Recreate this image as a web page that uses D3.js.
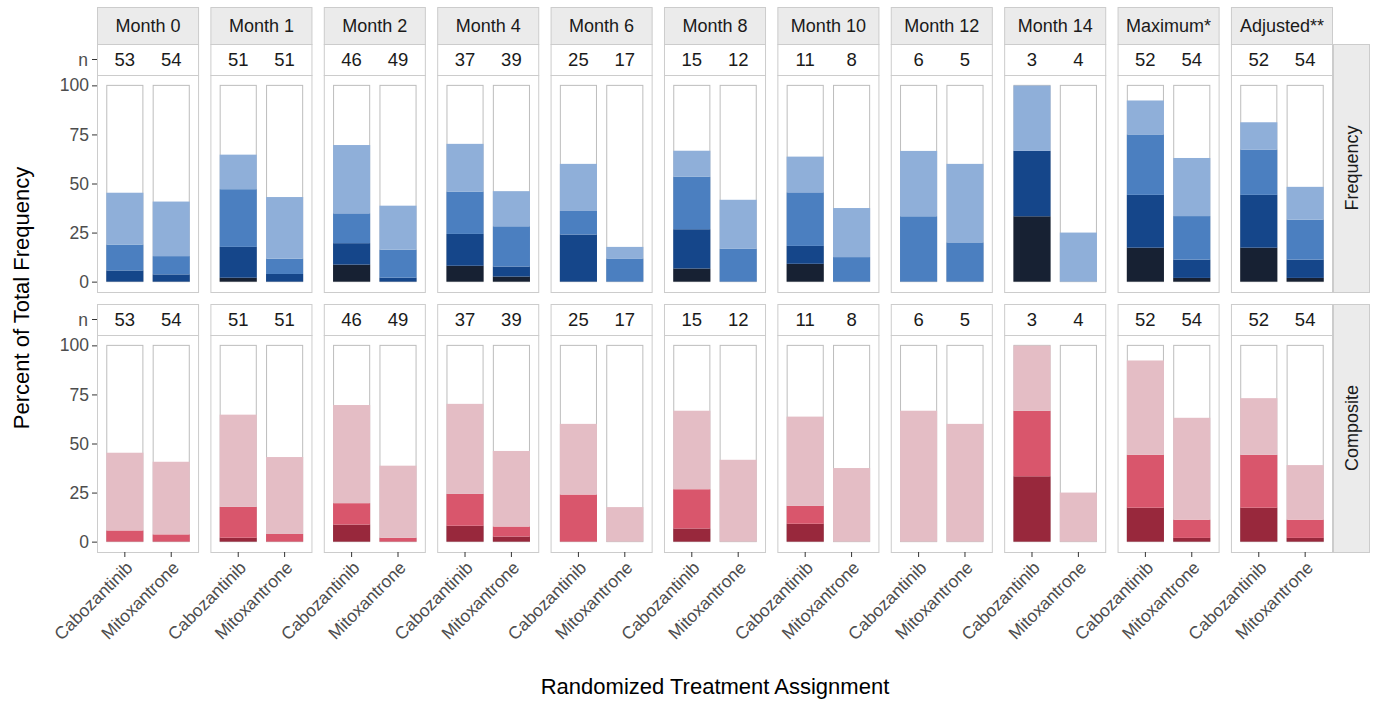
<!DOCTYPE html>
<html lang="en">
<head>
<meta charset="utf-8">
<script src="https://d3js.org/d3.v7.min.js"></script>
<style>
  body { margin: 0; background: #fff; }
  text { font-family: "Liberation Sans", Arial, sans-serif; }
</style>
</head>
<body>
<div id="chart"></div>
<script>
// facets and arms
const timepoints = ["Month 0", "Month 1", "Month 2", "Month 4", "Month 6", "Month 8",
                    "Month 10", "Month 12", "Month 14", "Maximum*", "Adjusted**"];
const arms = ["Cabozantinib", "Mitoxantrone"];
const nCabo = [53, 51, 46, 37, 25, 15, 11, 6, 3, 52, 52];
const nMito = [54, 51, 49, 39, 17, 12, 8, 5, 4, 54, 54];

// Frequency row, % per level, stacked bottom -> top (darkest, dark, medium, light)
const freqCabo = [[0, 5.7, 13.2, 26.4], [2.0, 15.7, 29.4, 17.6], [8.7, 10.9, 15.2, 34.8],
                  [8.1, 16.2, 21.6, 24.3], [0, 24, 12, 24], [6.7, 20, 26.7, 13.3],
                  [9.1, 9.1, 27.3, 18.2], [0, 0, 33.3, 33.3], [33.3, 33.3, 0, 33.3],
                  [17.3, 26.9, 30.8, 17.3], [17.3, 26.9, 23.1, 13.9]];
const freqMito = [[0, 3.7, 9.3, 27.8], [0, 3.9, 7.8, 31.4], [0, 2.0, 14.3, 22.4],
                  [2.6, 5.1, 20.5, 17.9], [0, 0, 11.8, 5.9], [0, 0, 16.7, 25],
                  [0, 0, 12.5, 25], [0, 0, 20, 40], [0, 0, 0, 25],
                  [1.9, 9.3, 22.2, 29.6], [1.9, 9.3, 20.4, 16.7]];

// Composite row, % per level, bottom -> top (dark, medium, light)
const compCabo = [[0, 5.7, 39.6], [2.0, 15.7, 47.0], [8.7, 10.9, 50.0], [8.1, 16.2, 45.9],
                  [0, 24, 36], [6.7, 20, 40], [9.1, 9.1, 45.5], [0, 0, 66.7],
                  [33.3, 33.3, 33.3], [17.3, 26.9, 48.1], [17.3, 26.9, 28.9]];
const compMito = [[0, 3.7, 37.0], [0, 3.9, 39.2], [0, 2.0, 36.7], [2.6, 5.1, 38.5],
                  [0, 0, 17.6], [0, 0, 41.7], [0, 0, 37.5], [0, 0, 60],
                  [0, 0, 25], [1.9, 9.3, 51.9], [1.9, 9.3, 27.8]];

const yTicks = [0, 25, 50, 75, 100];

const blues = ["#172133", "#15468a", "#4b7fc0", "#8fafd9"];
const reds = ["#98283c", "#d9566c", "#e4bdc5"];

const W = 1373, H = 701;
const svg = d3.select("#chart").append("svg")
  .attr("width", W).attr("height", H);
svg.append("rect").attr("width", W).attr("height", H).attr("fill", "#fff");

const panelX = d3.scaleBand().domain(timepoints).range([97, 1333]).paddingInner(0.1);
const armX = d3.scaleBand().domain(arms).range([0, panelX.bandwidth()])
  .paddingInner(0.2).paddingOuter(0.2);

const rows = [
  {label: "Frequency", nTop: 44, plotTop: 75, plotBot: 292, cabo: freqCabo, mito: freqMito, colors: blues},
  {label: "Composite", nTop: 304, plotTop: 335, plotBot: 552, cabo: compCabo, mito: compMito, colors: reds}
];

const border = "#cccccc";

// top strips
timepoints.forEach(tp => {
  const x0 = panelX(tp);
  svg.append("rect")
    .attr("x", x0 + 0.5).attr("y", 7.5)
    .attr("width", panelX.bandwidth() - 1).attr("height", 37)
    .attr("fill", "#ebebeb").attr("stroke", border);
  svg.append("text")
    .attr("x", x0 + panelX.bandwidth() / 2).attr("y", 26)
    .attr("text-anchor", "middle").attr("dominant-baseline", "central")
    .attr("font-size", 18).attr("fill", "#1a1a1a")
    .text(tp);
});

rows.forEach(row => {
  const pad = (row.plotBot - row.plotTop) * 0.05 / 1.1;
  const y = d3.scaleLinear().domain([0, 100])
    .range([row.plotBot - pad - 0.5, row.plotTop + pad + 0.5]);
  const nMid = (row.nTop + row.plotTop) / 2;

  timepoints.forEach((tp, i) => {
    const g = svg.append("g").attr("transform", "translate(" + panelX(tp) + ",0)");
    const bw = panelX.bandwidth();

    // n row
    g.append("rect")
      .attr("x", 0.5).attr("y", row.nTop + 0.5)
      .attr("width", bw - 1).attr("height", row.plotTop - row.nTop)
      .attr("fill", "#fff").attr("stroke", border);
    [nCabo[i], nMito[i]].forEach((n, j) => {
      g.append("text")
        .attr("x", armX(arms[j]) + armX.bandwidth() / 2).attr("y", nMid)
        .attr("text-anchor", "middle").attr("dominant-baseline", "central")
        .attr("font-size", 18.5).attr("fill", "#1a1a1a")
        .text(n);
    });

    // plot panel
    g.append("rect")
      .attr("x", 0.5).attr("y", row.plotTop + 0.5)
      .attr("width", bw - 1).attr("height", row.plotBot - row.plotTop)
      .attr("fill", "#fff").attr("stroke", border);

    [row.cabo[i], row.mito[i]].forEach((vals, j) => {
      const bx = armX(arms[j]);
      // 100% background bar
      g.append("rect")
        .attr("x", bx + 0.5).attr("y", y(100))
        .attr("width", armX.bandwidth() - 1).attr("height", y(0) - y(100))
        .attr("fill", "#fff").attr("stroke", "#bdbdbd");
      const cum = d3.cumsum(vals);
      g.selectAll(null)
        .data(vals.map((v, k) => ({v: v, top: cum[k], k: k})).filter(d => d.v > 0))
        .enter().append("rect")
        .attr("x", bx)
        .attr("y", d => y(d.top))
        .attr("width", armX.bandwidth())
        .attr("height", d => y(d.top - d.v) - y(d.top))
        .attr("fill", d => row.colors[d.k]);
    });
  });

  // y axis
  const axis = svg.append("g")
    .attr("transform", "translate(97,0)")
    .call(d3.axisLeft(y).tickValues(yTicks).tickSize(5).tickPadding(3));
  axis.select(".domain").remove();
  axis.selectAll(".tick line").attr("stroke", "#333");
  axis.selectAll("text").attr("font-size", 17.5).attr("fill", "#4d4d4d")
    .attr("font-family", "Liberation Sans, Arial, sans-serif");

  // n label
  svg.append("line").attr("x1", 92).attr("x2", 97).attr("y1", nMid).attr("y2", nMid)
    .attr("stroke", "#333");
  svg.append("text").attr("x", 88).attr("y", nMid)
    .attr("text-anchor", "end").attr("dominant-baseline", "central")
    .attr("font-size", 17.5).attr("fill", "#4d4d4d").text("n");

  // right strip
  svg.append("rect")
    .attr("x", 1333.5).attr("y", row.nTop + 0.5)
    .attr("width", 36).attr("height", row.plotBot - row.nTop)
    .attr("fill", "#ebebeb").attr("stroke", border);
  svg.append("text")
    .attr("transform", "translate(1352," + ((row.nTop + row.plotBot) / 2) + ") rotate(-90)")
    .attr("text-anchor", "middle").attr("dominant-baseline", "central")
    .attr("font-size", 18).attr("fill", "#1a1a1a")
    .text(row.label);
});

// x axis ticks + rotated labels
timepoints.forEach(tp => {
  arms.forEach(a => {
    const cx = panelX(tp) + armX(a) + armX.bandwidth() / 2;
    svg.append("line").attr("x1", cx).attr("x2", cx).attr("y1", 552).attr("y2", 557)
      .attr("stroke", "#333");
    svg.append("text")
      .attr("transform", "translate(" + cx + ",560) rotate(-45)")
      .attr("text-anchor", "end").attr("dy", "0.72em")
      .attr("font-size", 17.5).attr("fill", "#4d4d4d")
      .text(a);
  });
});

// axis titles
svg.append("text")
  .attr("x", 715).attr("y", 694)
  .attr("text-anchor", "middle").attr("font-size", 22).attr("fill", "#000")
  .text("Randomized Treatment Assignment");
svg.append("text")
  .attr("transform", "translate(29,298) rotate(-90)")
  .attr("text-anchor", "middle").attr("font-size", 22).attr("fill", "#000")
  .text("Percent of Total Frequency");
</script>
</body>
</html>
